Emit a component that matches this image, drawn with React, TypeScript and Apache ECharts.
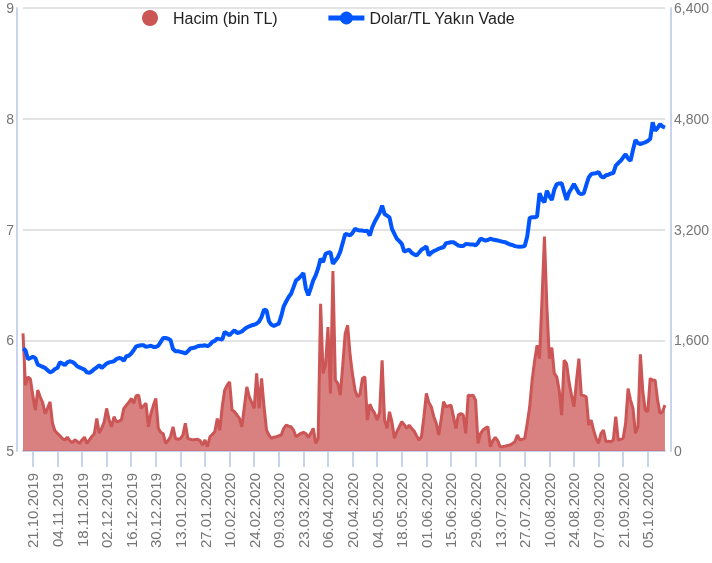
import React, { useEffect, useRef } from "react";
import * as echarts from "echarts";

// Trading days (Mon–Fri) from 15.10.2019 to 14.10.2020
const startDate = [2019, 9, 15];
const endDate = [2020, 9, 14];
function buildDates(): string[] {
  const out: string[] = [];
  const d = new Date(startDate[0], startDate[1], startDate[2]);
  const e = new Date(endDate[0], endDate[1], endDate[2]);
  while (d <= e) {
    const wd = d.getDay();
    if (wd !== 0 && wd !== 6) {
      const dd = String(d.getDate()).padStart(2, "0");
      const mm = String(d.getMonth() + 1).padStart(2, "0");
      out.push(`${dd}.${mm}.${d.getFullYear()}`);
    }
    d.setDate(d.getDate() + 1);
  }
  return out;
}
const dates = buildDates();

const seriesNames = ["Hacim (bin TL)", "Dolar/TL Yakın Vade"];

// Dolar/TL near-term futures (left axis)
const usdTry = [
  5.925, 5.91, 5.83, 5.84, 5.85, 5.84, 5.78, 5.77, 5.76, 5.75,
  5.73, 5.71, 5.72, 5.74, 5.75, 5.80, 5.79, 5.775, 5.80, 5.81,
  5.805, 5.79, 5.765, 5.755, 5.745, 5.735, 5.71, 5.705, 5.72, 5.74,
  5.755, 5.775, 5.75, 5.77, 5.79, 5.80, 5.805, 5.81, 5.83, 5.84,
  5.835, 5.815, 5.855, 5.86, 5.88, 5.91, 5.945, 5.95, 5.955, 5.955,
  5.94, 5.945, 5.95, 5.94, 5.94, 5.95, 5.985, 6.02, 6.02, 6.015,
  6.0, 5.92, 5.90, 5.90, 5.895, 5.89, 5.88, 5.90, 5.925, 5.93,
  5.935, 5.946, 5.95, 5.95, 5.955, 5.946, 5.96, 5.985, 5.995, 6.015,
  6.01, 6.006, 6.075, 6.06, 6.045, 6.07, 6.09, 6.066, 6.07, 6.08,
  6.10, 6.115, 6.126, 6.135, 6.14, 6.15, 6.17, 6.21, 6.277, 6.27,
  6.17, 6.14, 6.13, 6.14, 6.15, 6.22, 6.306, 6.35, 6.39, 6.42,
  6.48, 6.54, 6.556, 6.58, 6.606, 6.466, 6.405, 6.47, 6.54, 6.586,
  6.65, 6.736, 6.705, 6.78, 6.79, 6.795, 6.69, 6.72, 6.75, 6.80,
  6.88, 6.96, 6.955, 6.946, 6.97, 7.006, 6.995, 6.99, 6.99, 6.985,
  6.99, 6.946, 7.02, 7.07, 7.11, 7.15, 7.216, 7.14, 7.125, 7.11,
  7.006, 6.96, 6.916, 6.895, 6.87, 6.80, 6.81, 6.817, 6.79, 6.775,
  6.766, 6.79, 6.817, 6.83, 6.847, 6.766, 6.79, 6.805, 6.815, 6.826,
  6.835, 6.84, 6.877, 6.88, 6.885, 6.886, 6.87, 6.856, 6.85, 6.85,
  6.87, 6.868, 6.865, 6.865, 6.856, 6.88, 6.916, 6.91, 6.90, 6.905,
  6.916, 6.91, 6.905, 6.90, 6.895, 6.89, 6.886, 6.875, 6.865, 6.86,
  6.85, 6.847, 6.845, 6.847, 6.85, 6.937, 7.105, 7.11, 7.11, 7.117,
  7.327, 7.27, 7.246, 7.35, 7.30, 7.267, 7.36, 7.41, 7.415, 7.417,
  7.34, 7.267, 7.336, 7.37, 7.41, 7.37, 7.33, 7.32, 7.327, 7.40,
  7.47, 7.50, 7.505, 7.507, 7.52, 7.48, 7.47, 7.49, 7.495, 7.505,
  7.51, 7.577, 7.60, 7.62, 7.65, 7.68, 7.64, 7.62, 7.718, 7.808,
  7.78, 7.772, 7.78, 7.787, 7.80, 7.817, 7.967, 7.892, 7.916, 7.952,
  7.93, 7.92,
];

// Volume in thousand TL (right axis)
const volume = [
  1700, 950, 1070, 1040, 800, 590, 880, 780, 700, 540,
  620, 710, 400, 290, 255, 220, 180, 160, 200, 150,
  120, 160, 140, 110, 160, 200, 110, 160, 210, 250,
  470, 260, 330, 420, 615, 450, 350, 495, 420, 430,
  450, 615, 660, 700, 760, 690, 800, 807, 615, 650,
  690, 350, 540, 660, 760, 330, 270, 250, 110, 150,
  210, 350, 180, 170, 180, 230, 400, 183, 170, 160,
  165, 170, 150, 86, 160, 62, 206, 240, 280, 470,
  300, 640, 880, 950, 1000, 591, 567, 520, 471, 350,
  640, 927, 783, 700, 615, 1120, 615, 1048, 639, 303,
  230, 183, 200, 206, 220, 231, 327, 375, 360, 350,
  300, 206, 230, 255, 269, 250, 197, 255, 327, 111,
  180, 2128, 1120, 1250, 1791, 831, 2600, 1023, 975, 807,
  1239, 1700, 1816, 1383, 1100, 879, 783, 820, 1048, 1071,
  447, 677, 600, 543, 447, 560, 1311, 447, 327, 567,
  420, 183, 278, 350, 423, 380, 327, 375, 327, 290,
  220, 159, 206, 495, 831, 700, 639, 500, 400, 231,
  450, 711, 639, 650, 663, 500, 327, 519, 543, 519,
  255, 807, 800, 807, 735, 111, 250, 303, 330, 350,
  62, 150, 197, 150, 62, 62, 70, 80, 86, 110,
  134, 231, 159, 170, 183, 399, 639, 1023, 1300, 1527,
  1335, 2176, 3098, 2080, 1335, 1494, 1120, 1071, 879, 519,
  1311, 1263, 999, 807, 639, 1000, 1335, 807, 800, 783,
  375, 447, 300, 183, 111, 255, 303, 134, 140, 134,
  159, 495, 159, 170, 183, 400, 903, 735, 615, 255,
  350, 1398, 855, 591, 567, 1048, 1023, 1023, 735, 543,
  567, 663,
];

const leftAxis = { min: 5, max: 9, interval: 1 };
const rightAxis = { min: 0, max: 6400, interval: 1600 };
const firstLabelIndex = 4; // 21.10.2019
const labelStep = 10; // every two weeks

const FONT = "'Liberation Sans', Arial, sans-serif";
const RED = "#cc5555";
const BLUE = "#0055ff";
const AXIS_BLUE = "#c8d4ee";

export default function App() {
  const ref = useRef<HTMLDivElement>(null);
  useEffect(() => {
    document.body.style.margin = "0";
    const chart = echarts.init(ref.current!, undefined, { renderer: "svg" });
    const showIdx = (i: number) => i >= firstLabelIndex && (i - firstLabelIndex) % labelStep === 0;
    chart.setOption({
      animation: false,
      textStyle: { fontFamily: FONT },
      legend: {
        left: 142,
        top: 5,
        padding: [5, 5, 5, 0],
        itemWidth: 36,
        itemHeight: 16,
        itemGap: 48,
        textStyle: { fontSize: 16, color: "#222", fontFamily: FONT },
        data: [
          { name: seriesNames[0], icon: "circle" },
          { name: seriesNames[1], lineStyle: { width: 5 } },
        ],
      },
      grid: { left: 23, right: 45, top: 8, bottom: 112 },
      xAxis: {
        type: "category",
        boundaryGap: false,
        data: dates,
        axisLine: { show: true, lineStyle: { color: AXIS_BLUE, width: 2 } },
        axisTick: { show: true, interval: (i: number) => showIdx(i), length: 16, lineStyle: { color: AXIS_BLUE, width: 2 } },
        axisLabel: {
          interval: (i: number) => showIdx(i),
          rotate: 90,
          margin: 22,
          fontSize: 15,
          color: "#757575",
          fontFamily: FONT,
        },
        splitLine: { show: false },
      },
      yAxis: [
        {
          type: "value",
          position: "left",
          offset: 6,
          ...leftAxis,
          axisLine: { show: true, lineStyle: { color: AXIS_BLUE, width: 2 } },
          axisTick: { show: false },
          axisLabel: { fontSize: 14, color: "#757575", margin: 3, fontFamily: FONT },
          splitLine: { show: true, lineStyle: { color: "#e3e3e3", width: 2 } },
        },
        {
          type: "value",
          position: "right",
          offset: 6,
          ...rightAxis,
          axisLine: { show: true, lineStyle: { color: AXIS_BLUE, width: 2 } },
          axisTick: { show: false },
          axisLabel: { fontSize: 14, color: "#757575", margin: 3, fontFamily: FONT },
          splitLine: { show: false },
        },
      ],
      series: [
        {
          name: seriesNames[0],
          type: "line",
          yAxisIndex: 1,
          data: volume,
          symbol: "circle",
          showSymbol: false,
          lineStyle: { color: RED, width: 3 },
          itemStyle: { color: RED },
          areaStyle: { color: RED, opacity: 0.75 },
          z: 1,
        },
        {
          name: seriesNames[1],
          type: "line",
          yAxisIndex: 0,
          data: usdTry,
          symbol: "circle",
          symbolSize: 14,
          showSymbol: false,
          lineStyle: { color: BLUE, width: 4 },
          itemStyle: { color: BLUE },
          z: 2,
        },
      ],
    });
    return () => chart.dispose();
  }, []);
  return <div ref={ref} style={{ position: "fixed", left: 0, top: 0, width: 712, height: 563 }} />;
}
